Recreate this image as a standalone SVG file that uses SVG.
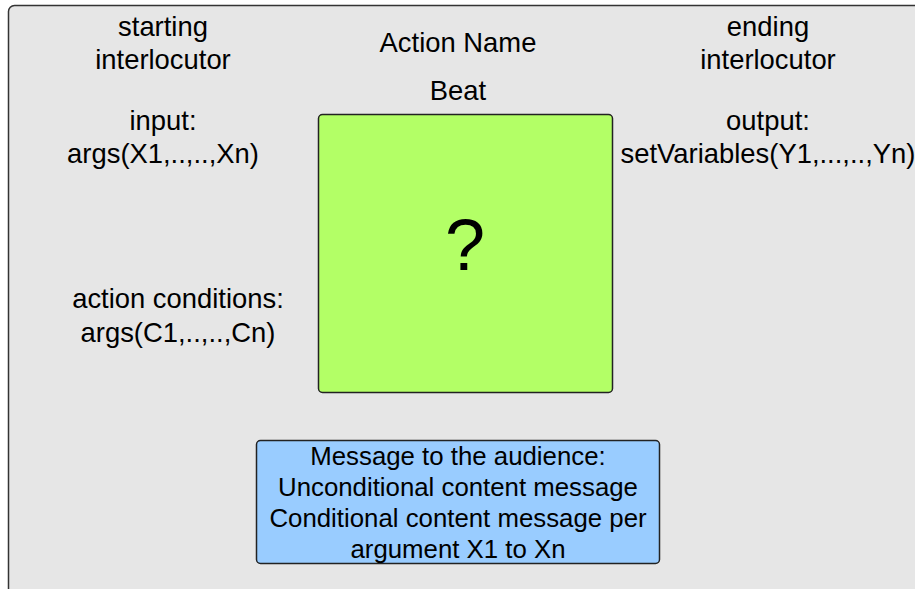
<svg xmlns="http://www.w3.org/2000/svg" width="915" height="589" viewBox="0 0 915 589">
<style>
text{font-family:"Liberation Sans",Arial,sans-serif;font-size:27.4px;fill:#000;text-anchor:middle}
.msg{font-size:25.8px}
.box{stroke:#222;stroke-width:1.5}
</style>
<rect x="0" y="0" width="915" height="589" fill="#fff"/>
<g id="frame">
<rect x="8.5" y="5.5" width="930" height="620" rx="6" fill="#e6e6e6" stroke="#333" stroke-width="1.5"/>
</g>
<g id="labels">
<text x="163" y="36">starting</text>
<text x="163" y="69">interlocutor</text>
<text x="163" y="130">input:</text>
<text x="163" y="163">args(X1,..,..,Xn)</text>
<text x="458" y="52">Action Name</text>
<text x="458" y="100">Beat</text>
<text x="768" y="36">ending</text>
<text x="768" y="69">interlocutor</text>
<text x="768" y="130">output:</text>
<text x="768" y="163">setVariables(Y1,...,..,Yn)</text>
<text x="178" y="308">action conditions:</text>
<text x="178" y="342">args(C1,..,..,Cn)</text>
</g>
<g id="beat">
<rect class="box" x="318.5" y="114.5" width="294" height="278" rx="4" fill="#b3ff66"/>
<text x="465" y="270" style="font-size:72px">?</text>
</g>
<g id="message">
<rect class="box" x="256.5" y="440.5" width="403" height="123" rx="4" fill="#99ccff"/>
<text class="msg" x="458" y="465">Message to the audience:</text>
<text class="msg" x="458" y="496">Unconditional content message</text>
<text class="msg" x="458" y="527">Conditional content message per</text>
<text class="msg" x="458" y="558">argument X1 to Xn</text>
</g>
<g id="connectors"/>
</svg>
